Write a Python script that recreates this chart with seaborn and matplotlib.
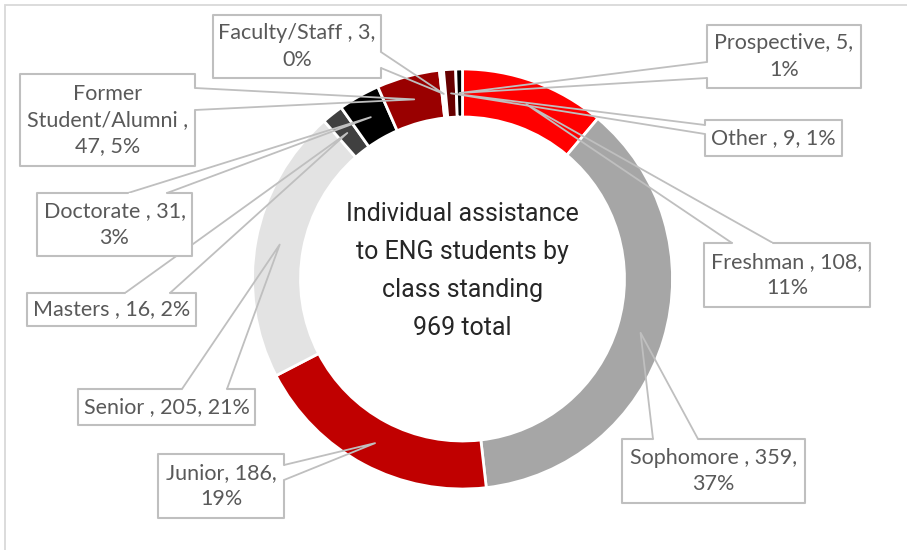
import matplotlib
matplotlib.use('Agg')
import numpy as np
import matplotlib.pyplot as plt
import seaborn as sns
from matplotlib.patches import Rectangle
from matplotlib.lines import Line2D

sns.set_theme(style='white')
plt.rcParams['font.family'] = ['Lato', 'DejaVu Sans']

# data, in the order the slices run clockwise from 12 o'clock
categories = ['Freshman', 'Sophomore', 'Junior', 'Senior', 'Masters', 'Doctorate',
              'Former Student/Alumni', 'Faculty/Staff', 'Other', 'Prospective']
counts = [108, 359, 186, 205, 16, 31, 47, 3, 9, 5]
label_texts = ['Freshman , 108,\n11%', 'Sophomore , 359,\n37%', 'Junior, 186,\n19%',
               'Senior , 205, 21%', 'Masters , 16, 2%', 'Doctorate , 31,\n3%',
               'Former\nStudent/Alumni ,\n47, 5%', 'Faculty/Staff , 3,\n0%',
               'Other , 9, 1%', 'Prospective, 5,\n1%']
colors = ['#FF0000', '#A6A6A6', '#C00000', '#E3E3E3', '#404040', '#000000',
          '#990000', '#FFFFFF', '#660000', '#000000']
title = 'Individual assistance\nto ENG students by\nclass standing\n%d total' % sum(counts)

# callout boxes in pixel coords (x0, y0, x1, y1, side of tail, tail base 1, tail base 2)
boxes = [(704, 243, 870, 307, 'top', 732, 773),
         (622, 439, 805, 503, 'top', 653, 698),
         (158, 454, 284, 518, 'right', 465, 480),
         (78, 389, 255, 425, 'top', 182, 227),
         (27, 293, 196, 326, 'top', 125, 170),
         (37, 193, 192, 256, 'top', 128, 167),
         (20, 74, 195, 166, 'right', 88, 110),
         (213, 15, 381, 78, 'right', 52, 68),
         (705, 120, 842, 156, 'left', 125, 134),
         (707, 25, 861, 88, 'left', 62, 78)]

W, H = 907, 550
fig = plt.figure(figsize=(W / 100, H / 100), dpi=100)
ax = fig.add_axes([0, 0, 1, 1])

cx, cy = 462.5, H - 279
R, ring = 210, 48
wedges, _ = ax.pie(counts, colors=colors, startangle=90, counterclock=False,
                   radius=R, center=(cx, cy), frame=True,
                   wedgeprops=dict(width=ring, edgecolor='white', linewidth=2))
ax.set_xlim(0, W)
ax.set_ylim(0, H)
ax.set_aspect('equal')
ax.axis('off')

# chart area border (only top and left show)
ax.add_patch(Rectangle((5, -20), W + 20, H - 5 + 20, fill=False,
                       edgecolor='#D9D9D9', lw=1.3, zorder=1))

line_col = '#BFBFBF'


def outline(x0, y0, x1, y1, side, b1, b2):
    if side == 'top':
        pts = [(b2, y0), (x1, y0), (x1, y1), (x0, y1), (x0, y0), (b1, y0)]
    elif side == 'right':
        pts = [(x1, b2), (x1, y1), (x0, y1), (x0, y0), (x1, y0), (x1, b1)]
    else:
        pts = [(x0, b1), (x0, y0), (x1, y0), (x1, y1), (x0, y1), (x0, b2)]
    return [(x, H - y) for x, y in pts]


for w, txt, (x0, y0, x1, y1, side, b1, b2) in zip(wedges, label_texts, boxes):
    mid = np.deg2rad((w.theta1 + w.theta2) / 2)
    r = R - ring / 2
    anchor = (cx + r * np.cos(mid), cy + r * np.sin(mid))
    pts = outline(x0, y0, x1, y1, side, b1, b2)
    # tail
    tx = [pts[-1][0], anchor[0], pts[0][0]]
    ty = [pts[-1][1], anchor[1], pts[0][1]]
    ax.add_line(Line2D(tx, ty, color=line_col, lw=1.3, zorder=3))
    # box
    ax.add_patch(Rectangle((x0, H - y1), x1 - x0, y1 - y0, facecolor='white',
                           edgecolor='none', zorder=4))
    ax.add_line(Line2D([p[0] for p in pts], [p[1] for p in pts], color=line_col,
                       lw=1.5, zorder=5))
    ax.text((x0 + x1) / 2, H - (y0 + y1) / 2, txt, ha='center', va='center',
            fontsize=15.5, color='#595959', linespacing=1.38, zorder=6)

ax.text(cx, H - 271, title, ha='center', va='center', fontsize=18,
        family=['Roboto', 'DejaVu Sans'], color='#262626', linespacing=1.74,
        zorder=6)

fig.savefig('out.png', dpi=100)
